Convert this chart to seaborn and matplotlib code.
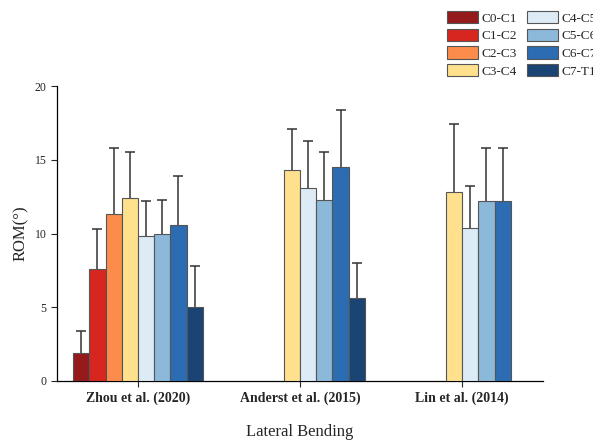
import pandas as pd
import matplotlib
matplotlib.use("Agg")
import matplotlib.pyplot as plt
import seaborn as sns

# values (mean, SD)
studies = ["Zhou et al. (2020)", "Anderst et al. (2015)", "Lin et al. (2014)"]
segments = ["C0-C1", "C1-C2", "C2-C3", "C3-C4", "C4-C5", "C5-C6", "C6-C7", "C7-T1"]
colors = ["#951a1c", "#d6261f", "#fb8c4c", "#fee08d", "#dcebf6", "#8cb8da", "#2b6cb2", "#1a4473"]

zhou_mean = [1.9, 7.6, 11.3, 12.4, 9.8, 10.0, 10.6, 5.0]
zhou_sd = [1.5, 2.7, 4.5, 3.1, 2.4, 2.3, 3.3, 2.8]
anderst_seg = ["C3-C4", "C4-C5", "C5-C6", "C6-C7", "C7-T1"]
anderst_mean = [14.3, 13.1, 12.3, 14.5, 5.6]
anderst_sd = [2.8, 3.2, 3.2, 3.9, 2.4]
lin_seg = ["C3-C4", "C4-C5", "C5-C6", "C6-C7"]
lin_mean = [12.8, 10.4, 12.2, 12.2]
lin_sd = [4.6, 2.8, 3.6, 3.6]

rows = []
for seg, m, s in zip(segments, zhou_mean, zhou_sd):
    rows.append((studies[0], seg, m, s))
for seg, m, s in zip(anderst_seg, anderst_mean, anderst_sd):
    rows.append((studies[1], seg, m, s))
for seg, m, s in zip(lin_seg, lin_mean, lin_sd):
    rows.append((studies[2], seg, m, s))
df = pd.DataFrame(rows, columns=["study", "segment", "rom", "sd"])

sns.set_style("ticks")
plt.rcParams["font.family"] = ["Liberation Serif", "DejaVu Serif"]

fig = plt.figure(figsize=(5.93, 4.44), dpi=100)
ax = fig.add_axes([0.096, 0.142, 0.82, 0.664])

sns.barplot(data=df, x="study", y="rom", hue="segment", order=studies,
            hue_order=segments, palette=colors, saturation=1, errorbar=None,
            width=0.8, edgecolor="#555555", linewidth=0.8, ax=ax, zorder=3)

# error bars sit behind the bars, so only the upper half shows
for seg, cont in zip(segments, ax.containers):
    sub = df[df.segment == seg].set_index("study").reindex(studies).dropna()
    for bar, sd in zip(cont, sub["sd"]):
        x = bar.get_x() + bar.get_width() / 2
        h = bar.get_height()
        ax.errorbar(x, h, yerr=sd, fmt="none", ecolor="#333333",
                    elinewidth=1.1, capsize=3.5, capthick=1.1, zorder=2)

ax.set_ylim(0, 20)
ax.set_xlim(-0.5, 2.5)
ax.set_yticks([0, 5, 10, 15, 20])
ax.set_ylabel("ROM(°)", fontsize=12)
ax.set_xlabel("Lateral Bending", fontsize=12, labelpad=14)
ax.tick_params(axis="y", labelsize=8.5, length=4, width=0.8)
ax.tick_params(axis="x", labelsize=10, length=4, width=0.8)
for lab in ax.get_xticklabels():
    lab.set_fontweight("bold")
sns.despine(ax=ax)
for sp in ["left", "bottom"]:
    ax.spines[sp].set_color("black")
    ax.spines[sp].set_linewidth(0.9)

ax.get_legend().remove()
handles, labels = ax.get_legend_handles_labels()
fig.legend(handles, labels, loc="upper left", bbox_to_anchor=(447 / 593, 1 - 11 / 444),
           ncol=2, frameon=False, fontsize=9.5, handlelength=2.35, handleheight=1.06,
           labelspacing=0.3, handletextpad=0.3, columnspacing=0.7,
           borderpad=0, borderaxespad=0)

fig.savefig("out.png", dpi=100)
